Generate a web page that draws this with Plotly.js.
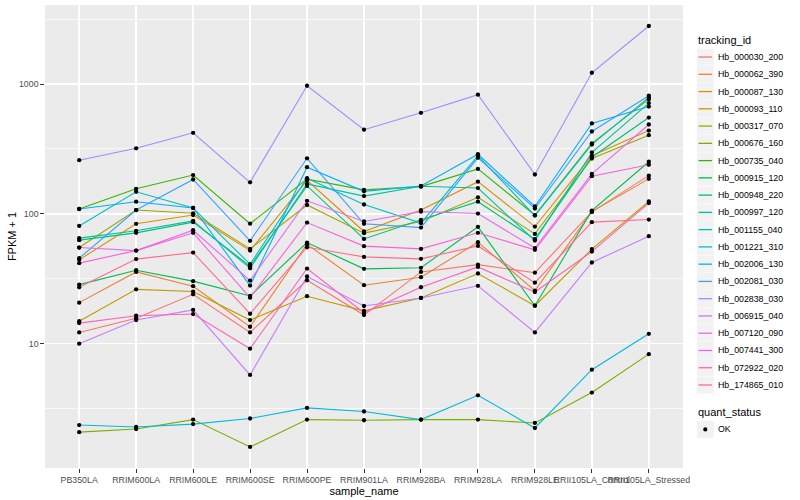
<!DOCTYPE html>
<html>
<head>
<meta charset="utf-8">
<script src="https://cdn.plot.ly/plotly-3.0.1.min.js"></script>
<style>html,body{margin:0;padding:0;background:#fff}#chart{width:800px;height:500px}</style>
</head>
<body>
<div id="chart"></div>
<script>
// ---- data (FPKM + 1) ----
const samples = ['PB350LA','RRIM600LA','RRIM600LE','RRIM600SE','RRIM600PE','RRIM901LA','RRIM928BA','RRIM928LA','RRIM928LE','RRII105LA_Control','RRII105LA_Stressed'];
const trackingIds = ['Hb_000030_200','Hb_000062_390','Hb_000087_130','Hb_000093_110','Hb_000317_070','Hb_000676_160','Hb_000735_040','Hb_000915_120','Hb_000948_220','Hb_000997_120','Hb_001155_040','Hb_001221_310','Hb_002006_130','Hb_002081_030','Hb_002838_030','Hb_006915_040','Hb_007120_090','Hb_007441_300','Hb_072922_020','Hb_174865_010'];
const Hb_000030_200 = [12.2, 15.7, 24.0, 12.2, 30.8, 16.6, 35.7, 40.6, 35.2, 103.5, 197];
const Hb_000062_390 = [20.7, 35.7, 27.7, 13.5, 58.3, 28.2, 32.5, 60.5, 25.6, 104, 186];
const Hb_000087_130 = [44.2, 83.8, 98, 52.1, 181, 73.1, 107, 177, 79.8, 280, 438];
const Hb_000093_110 = [14.9, 26.2, 25.2, 15.2, 23.2, 17.9, 22.5, 34.7, 19.6, 53.5, 124.5];
const Hb_000317_070 = [55, 107, 101, 53.7, 117, 71.0, 87.3, 134, 70.1, 267, 404];
const Hb_000676_160 = [2.08, 2.2, 2.6, 1.6, 2.6, 2.57, 2.6, 2.6, 2.45, 4.2, 8.3];
const Hb_000735_040 = [109, 156, 199, 84, 185, 153, 162, 222, 97.7, 349, 765];
const Hb_000915_120 = [28.5, 36.8, 30.3, 23.3, 60.1, 37.7, 38.4, 79.4, 19.6, 106, 252];
const Hb_000948_220 = [62.7, 71.4, 86.3, 39.5, 164, 64.1, 90, 124, 63.8, 273, 552];
const Hb_000997_120 = [65, 74, 88.3, 38.1, 170, 137, 163, 158, 62.2, 297, 713];
const Hb_001155_040 = [80.7, 148, 111, 40.9, 188, 118, 84.8, 280, 97, 342, 789];
const Hb_001221_310 = [2.36, 2.28, 2.4, 2.65, 3.2, 3.0, 2.6, 4.0, 2.24, 6.3, 11.9];
const Hb_002006_130 = [109, 124, 111, 28, 229, 149, 164, 288, 114, 497, 671];
const Hb_002081_030 = [45.5, 107, 184, 62, 268, 83.8, 78.4, 270, 110, 431, 813];
const Hb_002838_030 = [259, 320, 421, 175, 970, 445, 600, 828, 201, 1222, 2800];
const Hb_006915_040 = [10, 15.2, 18.2, 5.74, 32.9, 19.5, 22.5, 27.9, 12.2, 42.2, 67.3];
const Hb_007120_090 = [55, 52.1, 74.8, 30.6, 126, 87.3, 104, 100.5, 54.5, 203, 488];
const Hb_007441_300 = [41.7, 52.1, 71.4, 22.6, 85.7, 56.4, 53.7, 71.4, 52.8, 195, 239];
const Hb_072922_020 = [14.4, 16.4, 16.9, 9.15, 37.9, 17.3, 27.2, 39.0, 25, 51.2, 121];
const Hb_174865_010 = [27.2, 44.8, 50.3, 17.0, 55.3, 46.6, 45, 56.6, 29.5, 86.3, 90.4];
const yTickVals = [10, 100, 1000];
const yTickText = ['10', '100', '1000'];
const quantStatus = ['OK'];

const seriesValues = [Hb_000030_200, Hb_000062_390, Hb_000087_130, Hb_000093_110, Hb_000317_070, Hb_000676_160, Hb_000735_040, Hb_000915_120, Hb_000948_220, Hb_000997_120, Hb_001155_040, Hb_001221_310, Hb_002006_130, Hb_002081_030, Hb_002838_030, Hb_006915_040, Hb_007120_090, Hb_007441_300, Hb_072922_020, Hb_174865_010];
const colors = ['#F8766D','#EA8331','#D89000','#C09B00','#A3A500','#7CAE00','#39B600','#00BB4E','#00BF7D','#00C1A3','#00BFC4','#00BAE0','#00B0F6','#35A2FF','#9590FF','#C77CFF','#E76BF3','#FA62DB','#FF62BC','#FF6C91'];

const FONT = 'Liberation Sans, Arial, Helvetica, sans-serif';
const traces = [];
trackingIds.forEach((id, i) => {
  traces.push({type:'scatter', mode:'lines', x: samples, y: seriesValues[i], name: id,
    line:{color: colors[i], width: 1.1}, showlegend:false, hoverinfo:'skip'});
});
trackingIds.forEach((id, i) => {
  traces.push({type:'scatter', mode:'markers', x: samples, y: seriesValues[i], name: id,
    marker:{color:'#000', size:4.3}, showlegend:false});
});

// plot area in px
const L = 44.8, R = 683.2, T = 5.3, B = 468;
const W = R - L, H = B - T;
const px = v => (v - L) / W;
const py = v => (B - v) / H;

const shapes = [], annotations = [];
annotations.push({xref:'paper', yref:'paper', x: px(696), y: py(40.5), xanchor:'left', yanchor:'middle',
  text:'tracking_id', showarrow:false, font:{family:FONT, size:11, color:'#000'}});
trackingIds.forEach((id, i) => {
  const cy = 57.3 + i * 17.25;
  shapes.push({type:'rect', xref:'paper', yref:'paper', x0: px(697), x1: px(714), y0: py(cy - 8.4), y1: py(cy + 8.4),
    fillcolor:'#F2F2F2', line:{width:0}, layer:'above'});
  shapes.push({type:'line', xref:'paper', yref:'paper', x0: px(698.7), x1: px(712.3), y0: py(cy), y1: py(cy),
    line:{color: colors[i], width:1.3}, layer:'above'});
  annotations.push({xref:'paper', yref:'paper', x: px(716.5), y: py(cy), xanchor:'left', yanchor:'middle',
    text: id, showarrow:false, font:{family:FONT, size:8.8, color:'#000'}});
});
annotations.push({xref:'paper', yref:'paper', x: px(696), y: py(412), xanchor:'left', yanchor:'middle',
  text:'quant_status', showarrow:false, font:{family:FONT, size:11, color:'#000'}});
quantStatus.forEach((q, i) => {
  const cy = 429.5 + i * 17.25;
  shapes.push({type:'rect', xref:'paper', yref:'paper', x0: px(697), x1: px(714), y0: py(cy - 8.4), y1: py(cy + 8.4),
    fillcolor:'#F2F2F2', line:{width:0}, layer:'above'});
  shapes.push({type:'circle', xref:'paper', yref:'paper', x0: px(703.4), x1: px(707.6), y0: py(cy - 2.1), y1: py(cy + 2.1),
    fillcolor:'#000', line:{width:0}, layer:'above'});
  annotations.push({xref:'paper', yref:'paper', x: px(716.5), y: py(cy), xanchor:'left', yanchor:'middle',
    text: q, showarrow:false, font:{family:FONT, size:8.8, color:'#000'}});
});

const layout = {
  width: 800, height: 500,
  margin: {l: L, r: 800 - R, t: T, b: 500 - B, pad: 0},
  paper_bgcolor: '#FFFFFF', plot_bgcolor: '#EBEBEB',
  font: {family: FONT, color: '#000'},
  showlegend: false,
  xaxis: {
    type: 'category', range: [-0.6, samples.length - 0.4], categoryarray: samples, categoryorder: 'array',
    showgrid: true, gridcolor: '#FFFFFF', gridwidth: 1.4, zeroline: false, showline: false,
    ticks: 'outside', ticklen: 3.7, tickwidth: 1, tickcolor: '#333333', tickangle: 0,
    tickfont: {family: FONT, size: 8.8, color: '#4D4D4D'},
    title: {text: 'sample_name', font: {family: FONT, size: 11, color: '#000'}, standoff: 2},
    automargin: false, fixedrange: true
  },
  yaxis: {
    type: 'log', range: [0.042, 3.609],
    tickmode: 'array', tickvals: yTickVals, ticktext: yTickText,
    showgrid: true, gridcolor: '#FFFFFF', gridwidth: 1.4, zeroline: false, showline: false,
    ticks: 'outside', ticklen: 3.7, tickwidth: 1, tickcolor: '#333333',
    tickfont: {family: FONT, size: 8.8, color: '#4D4D4D'},
    minor: {tickmode: 'array', tickvals: [3.1623, 31.623, 316.23, 3162.3], showgrid: true, gridcolor: '#FFFFFF', gridwidth: 0.7, ticks: ''},
    title: {text: 'FPKM + 1', font: {family: FONT, size: 11, color: '#000'}, standoff: 0},
    automargin: false, fixedrange: true
  },
  shapes: shapes,
  annotations: annotations
};

Plotly.newPlot('chart', traces, layout, {staticPlot: true, displayModeBar: false});
</script>
</body>
</html>
